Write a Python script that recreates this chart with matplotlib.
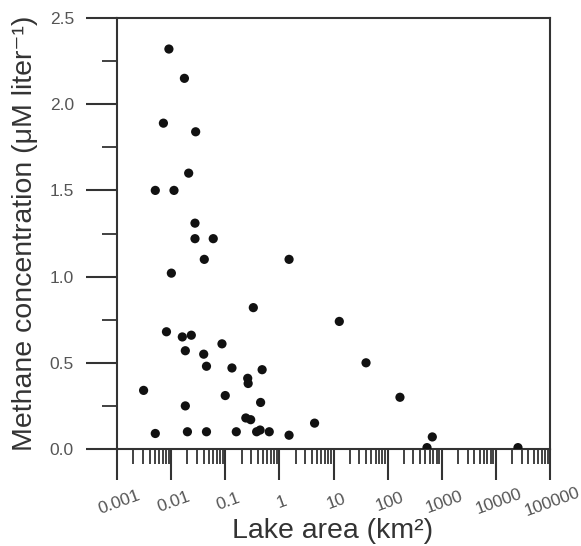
import matplotlib
matplotlib.use("Agg")
import matplotlib.pyplot as plt
from matplotlib.ticker import LogLocator, MultipleLocator, FixedLocator, FixedFormatter, NullFormatter
import numpy as np

# lake area (km2) and methane concentration (uM/L)
lake_area = [0.0091, 0.0176, 0.0072, 0.0284, 0.0211, 0.0051, 0.0113, 0.0276,
             0.0276, 0.060, 0.041, 1.51, 0.0101, 0.33, 12.8, 0.0082,
             0.0161, 0.0236, 0.087, 0.0183, 0.040, 0.045, 0.133, 0.48,
             0.26, 0.265, 0.0031, 0.10, 0.45, 0.0183, 0.24, 0.295,
             4.47, 0.0051, 0.020, 0.045, 0.16, 0.38, 0.44, 0.65,
             1.51, 39.9, 169, 669, 534, 25600]
methane = [2.32, 2.15, 1.89, 1.84, 1.60, 1.50, 1.50, 1.31,
           1.22, 1.22, 1.10, 1.10, 1.02, 0.82, 0.74, 0.68,
           0.65, 0.66, 0.61, 0.57, 0.55, 0.48, 0.47, 0.46,
           0.41, 0.38, 0.34, 0.31, 0.27, 0.25, 0.18, 0.17,
           0.15, 0.09, 0.10, 0.10, 0.10, 0.10, 0.11, 0.10,
           0.08, 0.50, 0.30, 0.07, 0.008, 0.008]

xtick_vals = [0.001, 0.01, 0.1, 1, 10, 100, 1000, 10000, 100000]
xtick_labels = ["0.001", "0.01", "0.1", "1", "10", "100", "1000", "10000", "100000"]

plt.rcParams['font.family'] = ['Liberation Sans', 'DejaVu Sans']

fig = plt.figure(figsize=(5.81, 5.46), dpi=100)
ax = fig.add_axes([117/581, 1 - 449/546, 433/581, 431/546])

ax.scatter(lake_area, methane, s=44, color='#111111', edgecolors='none', zorder=3)

ax.set_xscale('log')
ax.set_xlim(0.001, 100000)
ax.set_ylim(0, 2.5)

ax.xaxis.set_major_locator(FixedLocator(xtick_vals))
ax.xaxis.set_major_formatter(FixedFormatter(xtick_labels))
ax.xaxis.set_minor_locator(LogLocator(base=10, subs=np.arange(2, 10), numticks=20))
ax.xaxis.set_minor_formatter(NullFormatter())

ax.yaxis.set_major_locator(MultipleLocator(0.5))
ax.yaxis.set_minor_locator(MultipleLocator(0.25))
ax.yaxis.set_major_formatter(plt.FormatStrFormatter('%.1f'))

spine_col = '#333333'
for s in ax.spines.values():
    s.set_linewidth(1.5)
    s.set_color(spine_col)

ax.tick_params(which='major', direction='out', length=22, width=1.5, color=spine_col,
               labelsize=12.5, labelcolor='#555555', pad=9)
ax.tick_params(which='minor', direction='out', length=11, width=1.3, color=spine_col)
ax.tick_params(axis='x', which='major', pad=11)
ax.tick_params(top=False, right=False, which='both')

for lab in ax.get_xticklabels():
    lab.set_rotation(20)
    lab.set_ha('center')
    lab.set_rotation_mode('anchor')
    lab.set_va('top')

fig.text(333/581, 1 - 531/546, 'Lake area (km\u00b2)', fontsize=20.5, color='#333333',
         ha='center', va='center')
ax.set_ylabel('Methane concentration (\u03bcM liter\u207b\u00b9)', fontsize=20.5,
              color='#333333', labelpad=8)

plt.savefig('out.png', dpi=100)
